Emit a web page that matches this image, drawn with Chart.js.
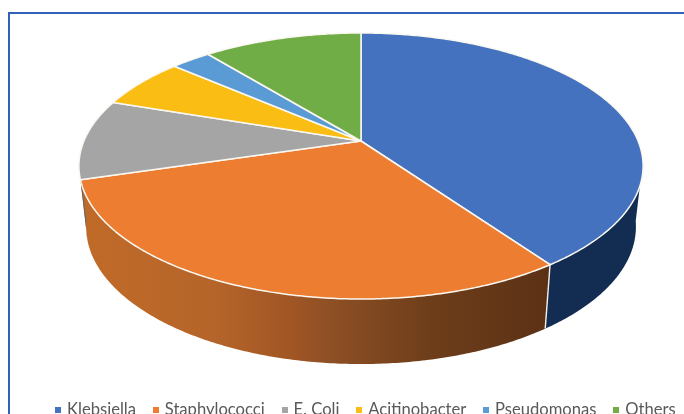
<!DOCTYPE html>
<html>
<head>
<meta charset="utf-8">
<title>Pathogen distribution</title>
<script src="https://cdn.jsdelivr.net/npm/chart.js@4"></script>
<style>
    html, body { margin: 0; padding: 0; background: #fff; }
    body { width: 684px; height: 414px; overflow: hidden; position: relative; font-family: Lato, sans-serif; }
    #frame { position: absolute; left: 8px; top: 12px; width: 700px; height: 430px; border: 2px solid #3361b8; }
    #pie { position: absolute; left: 0; top: 0; filter: blur(0.4px); }
    #legend { position: absolute; left: 55px; top: 398.5px; display: flex; gap: 16.8px; color: #595959; font-size: 16.6px; line-height: 20px; white-space: nowrap; filter: blur(0.3px); }
    #legend span { display: inline-block; }
    #legend .swatch { width: 6px; height: 6px; margin-right: 6px; vertical-align: 2px; }
</style>
</head>
<body>
<div id="frame"></div>
<canvas id="pie" width="684" height="414"></canvas>
<div id="legend"></div>

<script>
const categories  = ['Klebsiella', 'Staphylococci', 'E. Coli', 'Acitinobacter', 'Pseudomonas', 'Others'];
const shareValues = [40.2, 30.2, 9.75, 6.2, 2.75, 10.9];
const sliceColors = ['#4472be', '#ed7d31', '#a5a5a5', '#fabd14', '#5b9bd5', '#70ad47'];
const sideColors  = ['#132c52', null, '#63636a', '#967208', '#2c5f8f', '#436a2a'];

/* ─── Perspective of the tilted disc, relative to the library's radius ── */
const TILT       = 0.188;   // foreshortening towards the back
const TOP_X      = 1.965;
const TOP_Y      = 0.91;
const BOTTOM_X   = 1.915;
const BOTTOM_Y   = 0.859;
const DEPTH      = 0.4255;

function project(arc, angle, xScale, yScale, drop) {
    const r = arc.outerRadius;
    const u = Math.cos(angle);
    const v = Math.sin(angle);
    const w = 1 - TILT * v;
    return {
        x: arc.x + xScale * r * u / w,
        y: arc.y + (yScale * r * v + drop * r) / w,
    };
}

function rimPoints(arc, from, to, xScale, yScale, drop) {
    const steps = Math.max(2, Math.ceil((to - from) / 0.01));
    const pts = [];
    for (let i = 0; i <= steps; i++) {
        pts.push(project(arc, from + (to - from) * i / steps, xScale, yScale, drop));
    }
    return pts;
}

function tracePoints(ctx, pts) {
    pts.forEach(p => ctx.lineTo(p.x, p.y));
}

function sideFill(ctx, arc, i) {
    if (sideColors[i]) return sideColors[i];
    // Staphylococci wall: shaded from the lit left side to the dark right side
    const x0 = arc.x - 2 * arc.outerRadius;
    const g = ctx.createLinearGradient(x0, 0, x0 + 4 * arc.outerRadius, 0);
    g.addColorStop(0.02, '#c06a28');
    g.addColorStop(0.24, '#b5652a');
    g.addColorStop(0.38, '#a05524');
    g.addColorStop(0.44, '#8f5025');
    g.addColorStop(0.62, '#6e3e1a');
    g.addColorStop(0.85, '#5a3015');
    return g;
}

const pie3d = {
    id: 'pie3d',
    beforeDatasetDraw(chart) {
        const ctx  = chart.ctx;
        const arcs = chart.getDatasetMeta(0).data;

        // Walls first, only the part facing the viewer
        arcs.forEach((arc, i) => {
            const from = arc.startAngle;
            const to   = arc.endAngle;
            const a = Math.max(from, 0.15);
            const b = Math.min(to, Math.PI - 0.15);
            if (b <= a) return;
            const top    = rimPoints(arc, a, b, TOP_X, TOP_Y, 0);
            const bottom = rimPoints(arc, a, b, BOTTOM_X, BOTTOM_Y, DEPTH).reverse();
            ctx.beginPath();
            ctx.moveTo(top[0].x, top[0].y);
            tracePoints(ctx, top);
            tracePoints(ctx, bottom);
            ctx.closePath();
            ctx.fillStyle = sideFill(ctx, arc, i);
            ctx.fill();
        });

        // Seam between the two visible walls
        const seam = arcs[0].endAngle;
        const p = project(arcs[0], seam, TOP_X, TOP_Y, 0);
        const q = project(arcs[0], seam, BOTTOM_X, BOTTOM_Y, DEPTH);
        ctx.beginPath();
        ctx.moveTo(p.x, p.y);
        ctx.lineTo(q.x, q.y);
        ctx.strokeStyle = '#f4efe8';
        ctx.lineWidth = 1.4;
        ctx.stroke();

        // Top faces
        arcs.forEach((arc, i) => {
            ctx.beginPath();
            ctx.moveTo(arc.x, arc.y);
            tracePoints(ctx, rimPoints(arc, arc.startAngle, arc.endAngle, TOP_X, TOP_Y, 0));
            ctx.closePath();
            ctx.fillStyle = sliceColors[i];
            ctx.fill();
            ctx.strokeStyle = '#fbf8f2';
            ctx.lineWidth = 1.5;
            ctx.lineJoin = 'round';
            ctx.stroke();
        });
        return false;   // arcs are painted above, skip the flat default
    },
};

new Chart(document.getElementById('pie'), {
    type: 'pie',
    data: {
        labels: categories,
        datasets: [{ data: shareValues, backgroundColor: sliceColors, borderWidth: 0 }],
    },
    options: {
        responsive: false,
        animation: false,
        layout: { padding: { left: 38, right: 0, top: 0, bottom: 132 } },
        plugins: { legend: { display: false }, tooltip: { enabled: false } },
    },
    plugins: [pie3d],
});

/* ─── Legend ───────────────────────────────────────────────────────── */
const legendEl = document.getElementById('legend');
categories.forEach((name, i) => {
    const item = document.createElement('div');
    const swatch = document.createElement('span');
    swatch.className = 'swatch';
    swatch.style.background = sliceColors[i];
    const label = document.createElement('span');
    label.textContent = name;
    item.append(swatch, label);
    legendEl.appendChild(item);
});
</script>
</body>
</html>
